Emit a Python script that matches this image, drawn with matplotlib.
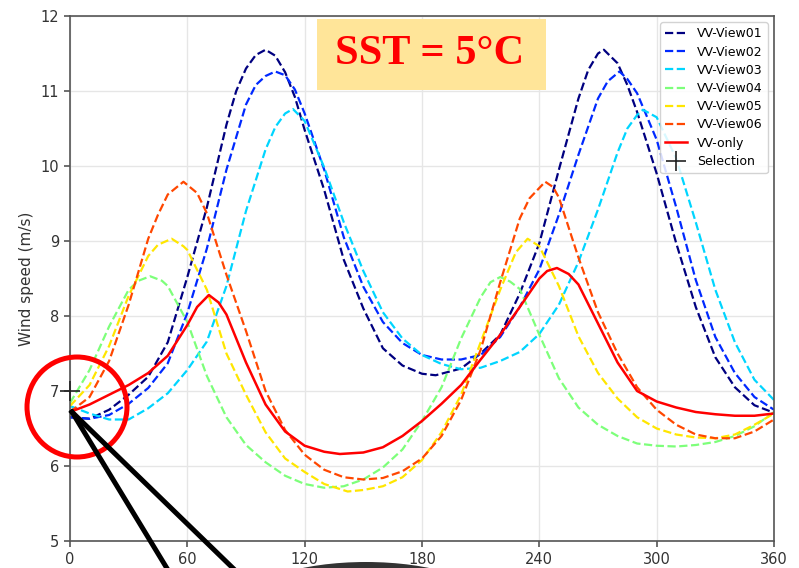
import numpy as np
import matplotlib
matplotlib.use('Agg')
import matplotlib.pyplot as plt
from matplotlib.patches import Ellipse, Rectangle
from matplotlib.lines import Line2D

# Wind speed vs azimuth (deg)
view01_x = [0, 10, 20, 30, 40, 50, 60, 70, 80, 85, 90, 95, 100, 105, 110, 115, 120, 130, 140, 150, 160, 170,
            180, 187, 200, 210, 220, 230, 240, 250, 260, 265, 270, 273, 280, 285, 290, 300, 310, 320, 330,
            340, 350, 360]
view01_y = [6.65, 6.63, 6.75, 6.95, 7.19, 7.65, 8.52, 9.45, 10.55, 11.0, 11.3, 11.48, 11.55, 11.47, 11.25,
            10.92, 10.48, 9.68, 8.75, 8.1, 7.57, 7.34, 7.23, 7.21, 7.3, 7.5, 7.75, 8.3, 8.97, 9.95, 10.9,
            11.28, 11.5, 11.55, 11.37, 11.08, 10.72, 9.9, 8.97, 8.12, 7.45, 7.05, 6.81, 6.71]

view02_x = [0, 10, 20, 30, 40, 50, 60, 70, 80, 90, 95, 100, 105, 110, 115, 120, 130, 140, 150, 160, 170, 180,
            190, 200, 210, 220, 230, 240, 250, 260, 270, 275, 281, 285, 290, 300, 310, 320, 330, 340, 350, 360]
view02_y = [6.65, 6.63, 6.68, 6.83, 7.04, 7.37, 8.04, 8.9, 9.95, 10.82, 11.08, 11.2, 11.26, 11.21, 11.02,
            10.7, 9.95, 9.05, 8.39, 7.92, 7.64, 7.48, 7.42, 7.42, 7.48, 7.72, 8.12, 8.62, 9.35, 10.15, 10.9,
            11.13, 11.26, 11.16, 10.97, 10.35, 9.45, 8.48, 7.72, 7.24, 6.92, 6.75]

view03_x = [0, 10, 20, 30, 40, 50, 60, 70, 80, 90, 100, 105, 110, 114, 120, 130, 140, 150, 160, 170, 180,
            190, 200, 210, 220, 230, 240, 250, 260, 270, 280, 285, 290, 293, 300, 310, 320, 330, 340, 350, 360]
view03_y = [6.8, 6.7, 6.62, 6.62, 6.77, 6.97, 7.28, 7.66, 8.4, 9.4, 10.22, 10.52, 10.7, 10.76, 10.6, 9.98,
            9.25, 8.6, 8.05, 7.7, 7.48, 7.36, 7.29, 7.31, 7.4, 7.52, 7.76, 8.15, 8.72, 9.42, 10.18, 10.5,
            10.68, 10.75, 10.65, 10.1, 9.25, 8.35, 7.65, 7.15, 6.88]

view04_x = [0, 10, 20, 30, 35, 41, 47, 50, 60, 70, 80, 90, 100, 110, 120, 130, 140, 150, 160, 170, 180, 190,
            200, 210, 215, 220, 225, 230, 240, 250, 260, 270, 280, 290, 300, 310, 320, 330, 340, 350, 360]
view04_y = [6.84, 7.28, 7.86, 8.35, 8.47, 8.53, 8.47, 8.4, 7.92, 7.2, 6.65, 6.28, 6.05, 5.87, 5.76, 5.71,
            5.73, 5.82, 5.98, 6.22, 6.6, 7.05, 7.7, 8.25, 8.45, 8.52, 8.46, 8.36, 7.75, 7.17, 6.78, 6.55,
            6.4, 6.3, 6.27, 6.26, 6.28, 6.32, 6.4, 6.53, 6.72]

view05_x = [0, 10, 20, 30, 40, 45, 52, 58, 60, 70, 80, 90, 100, 110, 120, 130, 142, 150, 160, 170, 180, 190,
            200, 210, 220, 228, 234, 240, 250, 260, 270, 280, 290, 300, 310, 320, 330, 340, 350, 360]
view05_y = [6.8, 7.08, 7.6, 8.27, 8.8, 8.95, 9.03, 8.93, 8.88, 8.35, 7.5, 6.95, 6.45, 6.1, 5.92, 5.76, 5.66,
            5.68, 5.73, 5.85, 6.08, 6.45, 6.95, 7.65, 8.35, 8.85, 9.03, 8.93, 8.4, 7.73, 7.24, 6.9, 6.65,
            6.5, 6.42, 6.38, 6.37, 6.42, 6.55, 6.7]

view06_x = [0, 10, 20, 30, 40, 45, 50, 58, 65, 70, 80, 90, 100, 110, 120, 130, 140, 150, 160, 170, 180, 190,
            200, 210, 220, 230, 235, 243, 247, 250, 260, 270, 280, 290, 300, 310, 320, 330, 340, 350, 360]
view06_y = [6.72, 6.92, 7.4, 8.15, 9.03, 9.35, 9.62, 9.79, 9.64, 9.37, 8.55, 7.8, 7.0, 6.48, 6.15, 5.95,
            5.85, 5.82, 5.84, 5.93, 6.1, 6.4, 6.88, 7.55, 8.45, 9.3, 9.57, 9.79, 9.72, 9.58, 8.78, 8.05,
            7.5, 7.05, 6.75, 6.55, 6.42, 6.37, 6.37, 6.46, 6.62]

vv_x = [0, 10, 20, 30, 40, 50, 60, 65, 71, 76, 80, 90, 100, 110, 120, 130, 138, 150, 160, 170, 180, 190,
        200, 210, 220, 230, 240, 244, 249, 255, 260, 270, 280, 290, 300, 310, 320, 330, 340, 350, 360]
vv_y = [6.72, 6.82, 6.95, 7.08, 7.24, 7.47, 7.88, 8.12, 8.28, 8.18, 8.02, 7.38, 6.82, 6.46, 6.27, 6.19,
        6.16, 6.18, 6.25, 6.4, 6.6, 6.83, 7.08, 7.42, 7.75, 8.12, 8.5, 8.6, 8.64, 8.56, 8.42, 7.9, 7.38,
        7.0, 6.86, 6.78, 6.72, 6.69, 6.67, 6.67, 6.7]

sel_x = [0]
sel_y = [7.0]

views = [(view01_x, view01_y), (view02_x, view02_y), (view03_x, view03_y),
         (view04_x, view04_y), (view05_x, view05_y), (view06_x, view06_y)]
view_names = ['VV-View01', 'VV-View02', 'VV-View03', 'VV-View04', 'VV-View05', 'VV-View06']
x_ticks = [0, 60, 120, 180, 240, 300, 360]
y_ticks = [5, 6, 7, 8, 9, 10, 11, 12]

W, H = 799, 568
fig = plt.figure(figsize=(W / 100, H / 100), dpi=100)
ax = fig.add_axes([70 / W, 27 / H, 704 / W, 525 / H])

colors = plt.cm.jet(np.linspace(0, 1, 7))[:6]
for (x, y), name, c in zip(views, view_names, colors):
    ax.plot(x, y, '--', color=c, lw=1.6, label=name)
ax.plot(vv_x, vv_y, '-', color='red', lw=1.8, label='VV-only')
ax.plot(sel_x, sel_y, '+', color='#222222', ms=15, mew=1.2, label='Selection', clip_on=False, zorder=5)

ax.set_xlim(0, 360)
ax.set_ylim(5, 12)
ax.set_xticks(x_ticks)
ax.set_yticks(y_ticks)
ax.grid(True, color='#e6e6e6', lw=1.0)
ax.set_axisbelow(True)
for s in ax.spines.values():
    s.set_color('#555555')
    s.set_linewidth(1.2)
ax.tick_params(colors='#555555', labelcolor='#333333', labelsize=10.5, length=4.5, width=1.2)
ax.set_ylabel('Wind speed (m/s)', fontsize=11, color='#333333')
ax.yaxis.set_label_coords(-0.051, 0.5)

leg = ax.legend(loc='upper right', fontsize=9, framealpha=0.85, edgecolor='#cccccc',
                labelspacing=0.42, handlelength=1.75)

# title box
fig.add_artist(Rectangle((317 / W, 1 - 90 / H), 229 / W, 71 / H, transform=fig.transFigure,
                         facecolor='#ffe599', edgecolor='none', zorder=3))
fig.text(430 / W, 1 - 54 / H, 'SST = 5°C', ha='center', va='center', color='red',
         fontsize=30.5, fontweight='bold', family='Liberation Serif', zorder=4)

# annotation overlays
fig.add_artist(Ellipse((77 / W, 1 - 407 / H), 100 / W, 100 / H, transform=fig.transFigure,
                       fill=False, edgecolor='red', lw=3.6, zorder=6))
fig.add_artist(Line2D([72 / W, 171 / W], [1 - 412 / H, 1 - 575 / H], transform=fig.transFigure,
                      color='black', lw=3.6, zorder=6))
fig.add_artist(Line2D([72 / W, 240 / W], [1 - 412 / H, 1 - 575 / H], transform=fig.transFigure,
                      color='black', lw=3.6, zorder=6))
fig.add_artist(Ellipse((366 / W, 1 - 602 / H), 240 / W, 80 / H, transform=fig.transFigure,
                       facecolor='#333333', edgecolor='none', zorder=6))

fig.savefig('out.png', dpi=100)
